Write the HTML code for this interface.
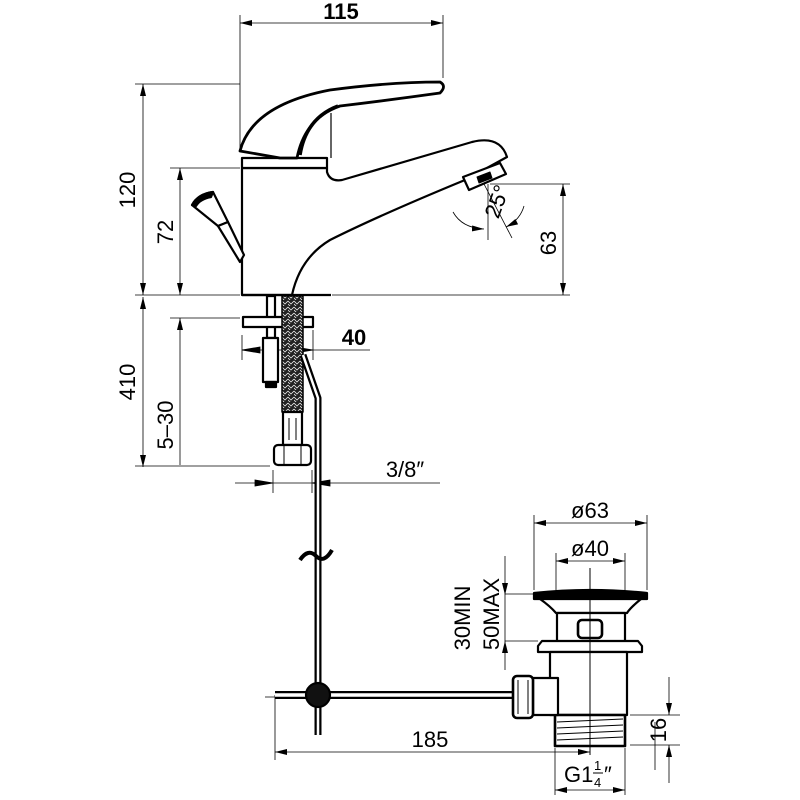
<!DOCTYPE html>
<html><head><meta charset="utf-8"><style>
html,body{margin:0;padding:0;background:#fff}
svg{display:block}
text{font-family:"Liberation Sans",sans-serif;fill:#000}
</style></head><body>
<svg width="800" height="800" viewBox="0 0 800 800" xmlns="http://www.w3.org/2000/svg">
<defs>
<marker id="a" viewBox="0 0 12 6" refX="12" refY="3" markerWidth="12" markerHeight="6" orient="auto-start-reverse" markerUnits="userSpaceOnUse"><path d="M0,0 L12,3 L0,6 z" fill="#000"/></marker>
<pattern id="br" width="6" height="6" patternUnits="userSpaceOnUse"><rect width="6" height="6" fill="#222"/><path d="M0,1 L3,4 L6,1 M0,4 L3,7" stroke="#fff" stroke-width="0.7" fill="none"/></pattern>
</defs>
<g stroke="#000" fill="none" stroke-width="0.8">
<line x1="240" y1="15" x2="240" y2="150"/><line x1="443" y1="15" x2="443" y2="78"/>
<line x1="240" y1="23" x2="443" y2="23" marker-start="url(#a)" marker-end="url(#a)"/>
<line x1="135" y1="84" x2="240" y2="84"/>
<line x1="143" y1="84" x2="143" y2="295" marker-start="url(#a)" marker-end="url(#a)"/>
<line x1="170" y1="168" x2="240" y2="168"/>
<line x1="180" y1="168" x2="180" y2="295" marker-start="url(#a)" marker-end="url(#a)"/>
<line x1="490" y1="184" x2="570" y2="184"/>
<line x1="135" y1="295" x2="240" y2="295"/><line x1="332" y1="295" x2="570" y2="295"/>
<line x1="563" y1="184" x2="563" y2="295" marker-start="url(#a)" marker-end="url(#a)"/>
<line x1="488" y1="184" x2="488" y2="240"/>
<line x1="484" y1="184" x2="512" y2="238"/>
<path d="M453,212 Q462,228 484,229" marker-end="url(#a)"/>
<path d="M524,206 Q520,220 506,227" marker-end="url(#a)"/>
<line x1="143" y1="297" x2="143" y2="467" marker-start="url(#a)" marker-end="url(#a)"/>
<line x1="170" y1="318" x2="240" y2="318"/>
<line x1="180" y1="318" x2="180" y2="465" marker-start="url(#a)"/>
<line x1="135" y1="466" x2="270" y2="466"/>
<line x1="242" y1="335" x2="242" y2="360"/><line x1="313" y1="330" x2="313" y2="360"/>
<line x1="242" y1="350" x2="370" y2="350"/>
<path d="M242,350 l18,-3 v6z M313,350 l-18,-3 v6z" fill="#000"/>
<line x1="273" y1="470" x2="273" y2="493"/><line x1="312" y1="470" x2="312" y2="493"/>
<line x1="235" y1="483" x2="440" y2="483"/>
<path d="M273,483 l-18,-3 v6z M312,483 l18,-3 v6z" fill="#000"/>
<line x1="534" y1="515" x2="534" y2="590"/><line x1="647" y1="515" x2="647" y2="590"/>
<line x1="534" y1="523" x2="647" y2="523" marker-start="url(#a)" marker-end="url(#a)"/>
<line x1="556" y1="553" x2="556" y2="595"/><line x1="625" y1="553" x2="625" y2="595"/>
<line x1="556" y1="561" x2="625" y2="561" marker-start="url(#a)" marker-end="url(#a)"/>
<line x1="505" y1="556" x2="505" y2="595" marker-end="url(#a)"/>
<line x1="505" y1="595" x2="505" y2="641"/>
<line x1="505" y1="670" x2="505" y2="641" marker-end="url(#a)"/>
<line x1="505" y1="594" x2="535" y2="594"/><line x1="505" y1="641" x2="538" y2="641"/>
<line x1="275" y1="695" x2="275" y2="760"/>
<line x1="275" y1="752" x2="590" y2="752" marker-start="url(#a)" marker-end="url(#a)"/>
<line x1="555" y1="748" x2="555" y2="795"/><line x1="625" y1="748" x2="625" y2="795"/>
<line x1="555" y1="790" x2="625" y2="790" marker-start="url(#a)" marker-end="url(#a)"/>
<line x1="630" y1="715" x2="680" y2="715"/><line x1="630" y1="745" x2="680" y2="745"/>
<line x1="669" y1="677" x2="669" y2="715" marker-end="url(#a)"/>
<line x1="669" y1="783" x2="669" y2="745" marker-end="url(#a)"/>
<line x1="655" y1="722" x2="655" y2="770"/>
<line x1="265" y1="697" x2="615" y2="697" stroke-dasharray="14,5"/>
</g>
<g stroke="#000" fill="#fff" stroke-width="2.2" stroke-linejoin="round">
<path d="M242,168 L327,168 L327,172 Q330,182 342,180 L472,142 Q500,135 507,157 L465,180 Q380,215 330,240 Q300,258 292,295 L242,295 Z"/>
<line x1="242" y1="295" x2="331" y2="295"/>
<path d="M242,158 L327,158 L327,168 L242,168 Z"/>
<path d="M240,151 Q252,105 330,90 Q390,82 440,82 Q447,86 440,93 Q390,100 340,106 Q305,118 297,158 L280,158 Z" stroke-width="2.8"/>
<path d="M338,106 Q306,118 300,155" fill="none" stroke-width="3.5"/>
<line x1="331" y1="113" x2="331" y2="158" stroke-width="1.2"/>
<path d="M463,177 L500,163 L506,174 L469,190 Z"/>
<path d="M477,177 L490,172 L492,178 L479,183Z" fill="#000" stroke-width="1"/>
<path d="M192,205 Q198,194 213,192 L228,222 L218,226 Z" />
<path d="M192,205 Q198,194 213,192 L211,197 Q200,199 196,206Z" fill="#000"/>
<path d="M218,226 L228,222 L244,255 L240,262 Z"/>
<rect x="267" y="296" width="8" height="42" />
<rect x="243" y="317" width="70" height="10"/>
<rect x="263" y="338" width="15" height="44"/>
<rect x="266" y="382" width="10" height="5" fill="#000"/>
<rect x="282" y="296" width="21" height="116" fill="url(#br)" stroke-width="1.5"/>
<rect x="283" y="412" width="19" height="33"/>
<line x1="289" y1="418" x2="289" y2="440" stroke-width="1"/><line x1="296" y1="418" x2="296" y2="440" stroke-width="1"/>
<rect x="274" y="445" width="37" height="20" rx="4"/>
<line x1="284" y1="446" x2="284" y2="464" stroke-width="1"/><line x1="301" y1="446" x2="301" y2="464" stroke-width="1"/>
<path d="M303,355 L318,398 L318,735" fill="none" stroke-width="7"/>
<path d="M303,355 L318,398 L318,735" fill="none" stroke="#fff" stroke-width="2.5"/>
<path d="M300,560 q8,-12 16,-4 q8,8 16,-6" fill="none" stroke-width="4"/>
<path d="M275,695 L512,695" fill="none" stroke-width="8"/>
<path d="M275,695 L512,695" fill="none" stroke="#fff" stroke-width="3.5"/>
<circle cx="318" cy="695" r="12" fill="#111"/>
<path d="M534,593 Q590,587 647,593 L647,599 L534,599 Z" fill="#000"/>
<path d="M540,599 L641,599 Q630,608 627,613 L556,613 Q550,606 540,599Z"/>
<rect x="557" y="613" width="68" height="29"/>
<rect x="578" y="620" width="24" height="18" rx="4" stroke-width="2.6"/>
<path d="M542,641 L638,641 L642,646 L642,652 L538,652 L538,646Z"/>
<rect x="550" y="652" width="77" height="63"/>
<rect x="555" y="715" width="70" height="31" stroke-width="2.6"/>
<g stroke-width="1"><line x1="557" y1="722" x2="623" y2="719"/><line x1="557" y1="728" x2="623" y2="725"/><line x1="557" y1="734" x2="623" y2="731"/><line x1="557" y1="740" x2="623" y2="737"/></g>
<rect x="533" y="678" width="25" height="37"/>
<rect x="513" y="676" width="20" height="42" rx="4" stroke-width="2.6"/>
<line x1="518" y1="680" x2="518" y2="714" stroke-width="1"/><line x1="528" y1="680" x2="528" y2="714" stroke-width="1"/>
<line x1="590" y1="568" x2="590" y2="755" stroke-width="1"/>
</g>
<g font-size="22">
<text x="341" y="19" text-anchor="middle" font-weight="bold">115</text>
<text transform="translate(135,190) rotate(-90)" text-anchor="middle">120</text>
<text transform="translate(173,232) rotate(-90)" text-anchor="middle">72</text>
<text transform="translate(556,243) rotate(-90)" text-anchor="middle">63</text>
<text transform="translate(504,204) rotate(-70)" text-anchor="middle">25°</text>
<text x="354" y="345" text-anchor="middle" font-weight="bold">40</text>
<text transform="translate(135,382) rotate(-90)" text-anchor="middle">410</text>
<text transform="translate(173,425) rotate(-90)" text-anchor="middle">5–30</text>
<text x="405" y="477" text-anchor="middle">3/8″</text>
<text x="590" y="518" text-anchor="middle">ø63</text>
<text x="590" y="556" text-anchor="middle">ø40</text>
<text transform="translate(470,618) rotate(-90)" text-anchor="middle">30MIN</text>
<text transform="translate(499,614) rotate(-90)" text-anchor="middle">50MAX</text>
<text x="430" y="747" text-anchor="middle">185</text>
<text x="564" y="782">G1</text>
<text x="594" y="770" font-size="13">1</text><line x1="593" y1="773" x2="603" y2="773" stroke="#000"/>
<text x="594" y="787" font-size="13">4</text>
<text x="604" y="782">″</text>
<text transform="translate(666,730) rotate(-90)" text-anchor="middle">16</text>
</g>
</svg>
</body></html>
